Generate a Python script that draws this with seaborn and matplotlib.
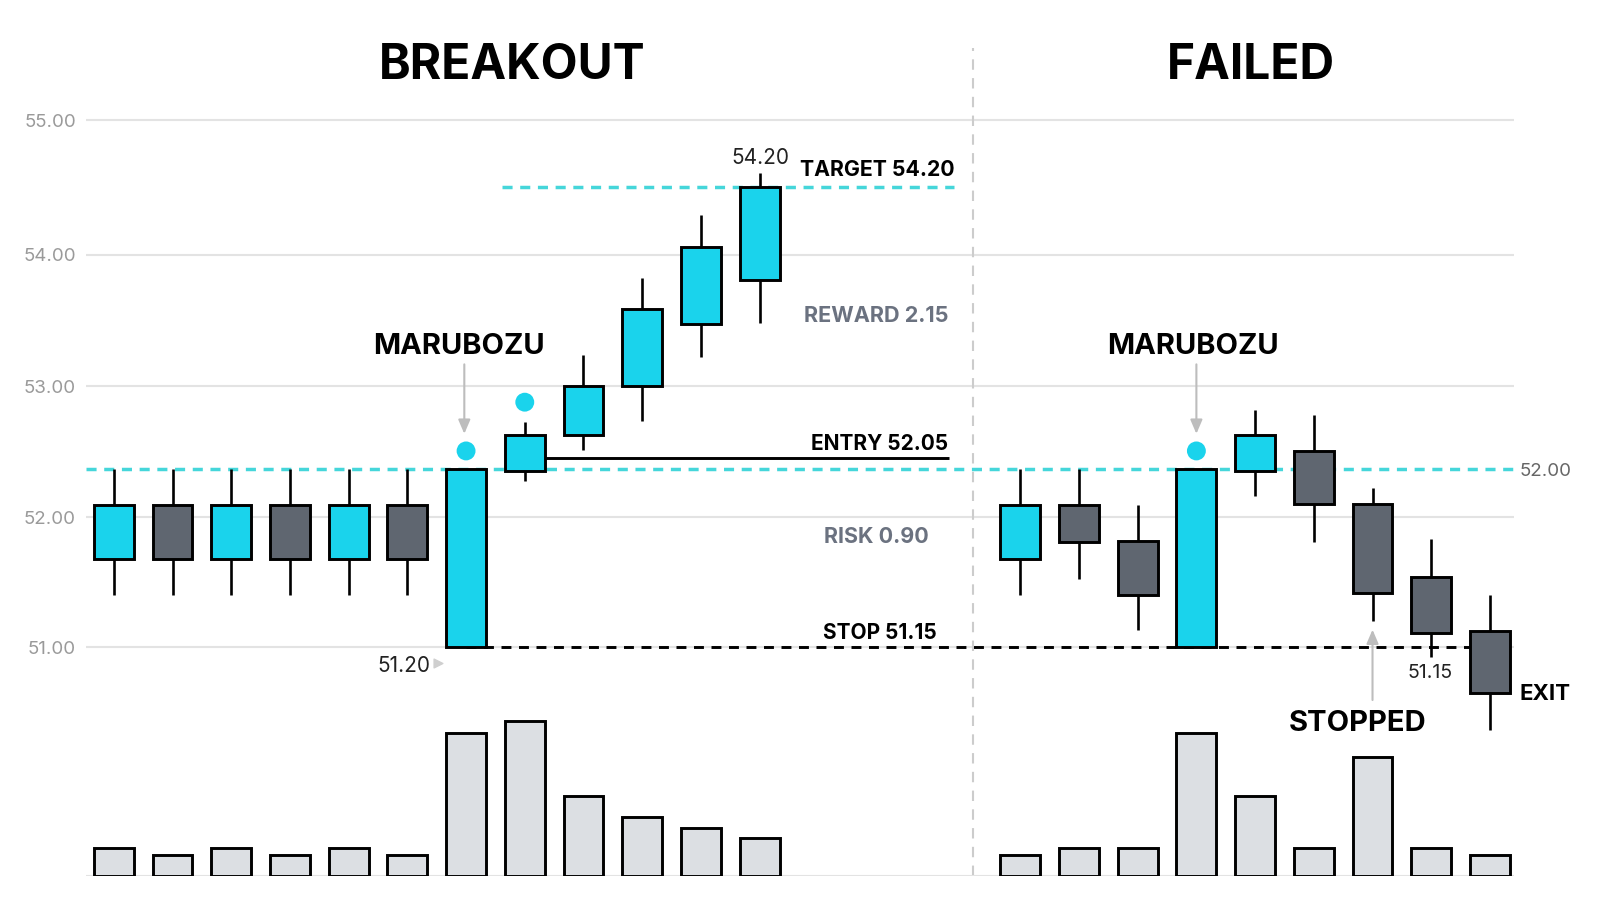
import numpy as np
import pandas as pd
import matplotlib
matplotlib.use("Agg")
import matplotlib.pyplot as plt
import seaborn as sns

# === datos ===
breakout_high = [52.35, 52.35, 52.35, 52.35, 52.35, 52.35, 52.35, 52.71, 53.22, 53.80, 54.28, 54.60]
breakout_top = [52.08, 52.08, 52.08, 52.08, 52.08, 52.08, 52.35, 52.61, 52.98, 53.57, 54.04, 54.49]
breakout_bottom = [51.67, 51.67, 51.67, 51.67, 51.67, 51.67, 51.00, 52.34, 52.61, 52.98, 53.45, 53.79]
breakout_low = [51.40, 51.40, 51.40, 51.40, 51.40, 51.40, 51.00, 52.26, 52.50, 52.72, 53.20, 53.46]
breakout_kind = ["up", "down", "up", "down", "up", "down", "up", "up", "up", "up", "up", "up"]
breakout_volume = [28, 21, 28, 21, 28, 21, 143, 155, 80, 59, 48, 38]

failed_high = [52.35, 52.35, 52.08, 52.35, 52.80, 52.76, 52.21, 51.82, 51.40]
failed_top = [52.08, 52.08, 51.81, 52.35, 52.61, 52.49, 52.09, 51.53, 51.12]
failed_bottom = [51.67, 51.80, 51.40, 51.00, 52.34, 52.09, 51.41, 51.11, 50.65]
failed_low = [51.40, 51.52, 51.13, 51.00, 52.15, 51.80, 51.20, 50.93, 50.37]
failed_kind = ["up", "down", "down", "up", "up", "down", "down", "down", "down"]
failed_volume = [21, 28, 28, 143, 80, 28, 119, 28, 21]

tick_values = [51.0, 51.986, 52.98, 53.98, 55.0]
tick_labels = ["51.00", "52.00", "53.00", "54.00", "55.00"]
resistance = 52.35
stop_level = 51.0
target_level = 54.49
entry_level = 52.44
signal_x = [6, 7, 18.44]
signal_y = [52.49, 52.86, 52.49]

CYAN = "#1AD3EC"
DARK = "#5F6670"
VOLUME = "#DCDFE3"
GRID = "#E3E3E3"
TEAL = "#45D6DA"
GRAY_TEXT = "#6B7280"
TICK_TEXT = "#9A9A9A"
ARROW = "#BDBDBD"

sns.set_theme(style="white")
plt.rcParams["font.family"] = ["Inter", "DejaVu Sans"]

failed_start = 15.44
df = pd.DataFrame({
    "pos": list(np.arange(12.0)) + list(failed_start + np.arange(9.0)),
    "high": breakout_high + failed_high,
    "top": breakout_top + failed_top,
    "bottom": breakout_bottom + failed_bottom,
    "low": breakout_low + failed_low,
    "kind": breakout_kind + failed_kind,
    "volume": breakout_volume + failed_volume,
})
df["body"] = df["top"] - df["bottom"]

fig = plt.figure(figsize=(16, 9.14), dpi=100)
ax = fig.add_axes([85.7 / 1600, 1 - 875.7 / 914, 1428.3 / 1600, 845.7 / 914])
ax_vol = ax.twinx()
ax.patch.set_visible(False)
ax_vol.patch.set_visible(False)

# === velas ===
ax.hlines(resistance, -0.479, 23.85, color=TEAL, lw=2.5, ls=(0, (2.9, 2.2)), zorder=2)
ax.hlines(target_level, 6.62, 14.31, color=TEAL, lw=2.5, ls=(0, (2.9, 2.2)), zorder=2)
ax.hlines(stop_level, 6, 23.44, color="black", lw=2.1, ls=(0, (3.4, 2.6)), zorder=2)
ax.hlines(entry_level, 7, 14.23, color="black", lw=2.1, zorder=2)
ax.vlines(14.63, 49.267, 55.55, color="#CCCCCC", lw=1.5, ls=(0, (5, 4)), zorder=1)
ax.vlines(df["pos"], df["low"], df["high"], color="black", lw=1.9, zorder=3)
for kind, colour in [("up", CYAN), ("down", DARK)]:
    part = df[df["kind"] == kind]
    sns.barplot(data=part, x="pos", y="body", bottom=part["bottom"].values, native_scale=True,
                width=0.68, color=colour, saturation=1, edgecolor="black", linewidth=2.1,
                errorbar=None, ax=ax, zorder=4)
sns.scatterplot(x=signal_x, y=signal_y, color=CYAN, s=185, edgecolor="none", ax=ax, zorder=5)

# === volumen ===
sns.barplot(data=df, x="pos", y="volume", native_scale=True, width=0.68, color=VOLUME, saturation=1,
            edgecolor="black", linewidth=2.1, errorbar=None, ax=ax_vol)

ax.set_xlim(-0.479, 23.85)
ax.set_ylim(49.267, 55.684)
ax_vol.set_xlim(-0.479, 23.85)
ax_vol.set_ylim(0, 845.7)
ax_vol.set_yticks([])
ax_vol.set_ylabel("")
ax_vol.set_xlabel("")
ax.set_xlabel("")
ax.set_ylabel("")
ax.set_xticks([])
ax.set_yticks(tick_values)
ax.set_yticklabels(tick_labels, color=TICK_TEXT, fontsize=13.5)
ax.tick_params(axis="y", length=0, pad=7)
ax.grid(axis="y", color=GRID, lw=1.5)
ax.set_axisbelow(True)
for a in (ax, ax_vol):
    for s in a.spines.values():
        s.set_visible(False)
ax_vol.axhline(0, color=GRID, lw=1.5, zorder=0)


def label(x, y, txt, size=15, weight="bold", color="black"):
    y = y + size * 0.08
    fig.text(x / 0.98 / 1600, 1 - y / 0.98 / 914, txt, fontsize=size, fontweight=weight,
             color=color, ha="center", va="center")


label(502, 61.5, "BREAKOUT", 34.5)
label(1226, 61.5, "FAILED", 34.5)
label(450, 337.5, "MARUBOZU", 21)
label(1169, 337.5, "MARUBOZU", 21)
label(860, 165, "TARGET 54.20", 15.3)
label(859, 308, "REWARD 2.15", 15.6, color=GRAY_TEXT)
label(862, 434, "ENTRY 52.05")
label(859, 525, "RISK 0.90", 15.5, color=GRAY_TEXT)
label(862, 619, "STOP 51.15")
label(1514, 679, "EXIT", 16)
label(1330, 707, "STOPPED", 21)
label(745, 154, "54.20", 15, "normal", "#222222")
label(396, 651, "51.20", 15, "normal", "#222222")
label(1401, 658, "51.15", 14, "normal", "#222222")
label(1515, 461, "52.00", 13.5, "normal", "#666666")

arrow = dict(arrowstyle="-|>,head_width=0.3,head_length=0.7", color=ARROW, lw=1.5, shrinkA=0, shrinkB=0)
ax.annotate("", xy=(5.97, 52.62), xytext=(5.97, 53.147), arrowprops=arrow)
ax.annotate("", xy=(18.44, 52.62), xytext=(18.44, 53.147), arrowprops=arrow)
ax.annotate("", xy=(21.44, 51.134), xytext=(21.44, 50.6), arrowprops=arrow)
ax.scatter([5.53], [50.88], marker=">", s=40, color="#CFCFCF", clip_on=False, zorder=5)

fig.savefig("out.png", dpi=100)
plt.close(fig)
